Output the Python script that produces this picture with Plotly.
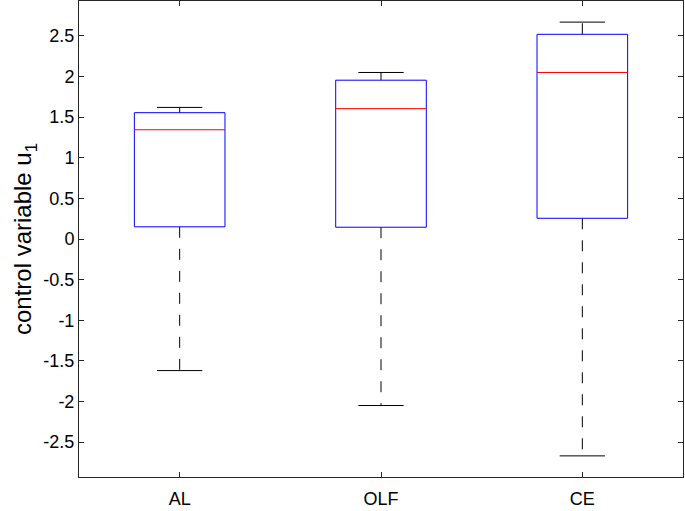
import plotly.graph_objects as go

categories = ["AL", "OLF", "CE"]
upper_whisker = [1.62, 2.05, 2.67]
q3 = [1.555, 1.955, 2.52]
median = [1.345, 1.605, 2.05]
q1 = [0.15, 0.145, 0.255]
lower_whisker = [-1.62, -2.05, -2.67]

box_w = 0.45
cap_w = 0.225

fig = go.Figure()
pos = [1, 2, 3]
for i, p in enumerate(pos):
    fig.add_trace(go.Scatter(x=[p, p], y=[q3[i], upper_whisker[i]], mode="lines",
                             line=dict(color="black", width=1, dash="11px,11px"), showlegend=False, hoverinfo="skip"))
    fig.add_trace(go.Scatter(x=[p, p], y=[q1[i], lower_whisker[i]], mode="lines",
                             line=dict(color="black", width=1, dash="11px,11px"), showlegend=False, hoverinfo="skip"))
    fig.add_trace(go.Scatter(x=[p - cap_w / 2, p + cap_w / 2], y=[upper_whisker[i]] * 2, mode="lines",
                             line=dict(color="black", width=1), showlegend=False, hoverinfo="skip"))
    fig.add_trace(go.Scatter(x=[p - cap_w / 2, p + cap_w / 2], y=[lower_whisker[i]] * 2, mode="lines",
                             line=dict(color="black", width=1), showlegend=False, hoverinfo="skip"))
    x0, x1 = p - box_w / 2, p + box_w / 2
    fig.add_trace(go.Scatter(x=[x0, x1, x1, x0, x0], y=[q1[i], q1[i], q3[i], q3[i], q1[i]], mode="lines",
                             line=dict(color="#0000ff", width=1), showlegend=False, hoverinfo="skip"))
    fig.add_trace(go.Scatter(x=[x0, x1], y=[median[i]] * 2, mode="lines",
                             line=dict(color="#ff0000", width=1), showlegend=False, hoverinfo="skip"))

axis_color = "#262626"
fig.update_layout(
    width=685, height=511,
    margin=dict(l=79, r=2, t=1, b=34, autoexpand=False),
    paper_bgcolor="white", plot_bgcolor="white",
    font=dict(family="Liberation Sans, Arial, sans-serif", size=18, color="#000000"),
    xaxis=dict(range=[0.5, 3.5], tickvals=pos, ticktext=categories, ticks="inside", ticklen=5,
               tickcolor=axis_color, showline=True, linecolor=axis_color, linewidth=1, mirror="ticks",
               showgrid=False, zeroline=False, tickfont=dict(size=18), ticklabelstandoff=5),
    yaxis=dict(range=[-2.93, 2.93], tickvals=[-2.5, -2, -1.5, -1, -0.5, 0, 0.5, 1, 1.5, 2, 2.5],
               ticktext=["-2.5", "-2", "-1.5", "-1", "-0.5", "0", "0.5", "1", "1.5", "2", "2.5"],
               ticks="inside", ticklen=5, tickcolor=axis_color, showline=True, linecolor=axis_color,
               linewidth=1, mirror="ticks", showgrid=False, zeroline=False, tickfont=dict(size=18),
               automargin=False,
               title=dict(text="control variable u<sub>1</sub>", font=dict(size=24), standoff=4)),
)

fig.write_html("out.html", config={"responsive": False, "displayModeBar": False},
               post_script="document.body.style.margin='0px';")
